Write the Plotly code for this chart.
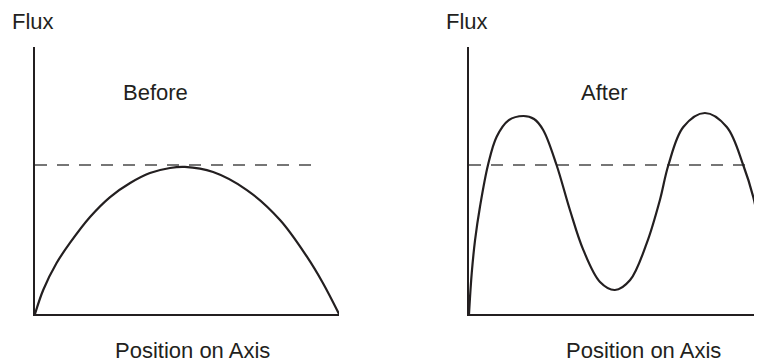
import plotly.graph_objects as go

# Data (position in % of axis length, flux relative to the dashed reference level = 1)
before_x = [0, 2.7, 7.1, 11.5, 18.1, 24.7, 31.3, 37.8, 44.4, 49.3, 58.6, 69.7, 80.6, 89.5, 94.7, 100]
before_y = [0, 0.161, 0.342, 0.477, 0.651, 0.785, 0.879, 0.946, 0.980, 0.987, 0.953, 0.832, 0.631, 0.383, 0.208, 0]

after_x = [0, 0.9, 2.0, 3.6, 6.25, 9.1, 13.0, 17.9, 21.4, 24.4, 28.8, 33.2, 37.6, 43.1, 48.0,
           53.0, 58.5, 62.8, 65.6, 70.5, 77.6, 84.8, 90.2, 93.5, 96.4]
after_y = [0, 0.275, 0.497, 0.718, 1.0, 1.19, 1.30, 1.329, 1.309, 1.235, 1.0, 0.698, 0.430, 0.215, 0.161,
           0.228, 0.477, 0.765, 1.0, 1.255, 1.349, 1.255, 1.0, 0.785, 0.497]

ref_before_x = [0, 93.8]
ref_after_x = [0, 96.4]
ref_level = [1, 1]

panel_titles = ["Before", "After"]
y_label = "Flux"
x_label = "Position on Axis"

# page body has an 8px margin; place everything relative to that
OFF = 8
W, H = 762 - OFF, 362 - OFF
def px(x):
    return (x - OFF) / W
def py(y):
    return 1 - (y - OFF) / H

INK = "#231f20"
DASH = "#4a4a4a"

fig = go.Figure()
fig.add_trace(go.Scatter(x=ref_before_x, y=ref_level, mode="lines",
                         line=dict(color=DASH, width=1.3, dash="12px,10px"),
                         xaxis="x", yaxis="y", showlegend=False, hoverinfo="skip"))
fig.add_trace(go.Scatter(x=before_x, y=before_y, mode="lines", line_shape="spline",
                         line=dict(color=INK, width=2.2),
                         xaxis="x", yaxis="y", showlegend=False))
fig.add_trace(go.Scatter(x=ref_after_x, y=ref_level, mode="lines",
                         line=dict(color=DASH, width=1.3, dash="12px,10px"),
                         xaxis="x2", yaxis="y2", showlegend=False, hoverinfo="skip"))
fig.add_trace(go.Scatter(x=after_x, y=after_y, mode="lines", line_shape="spline",
                         line=dict(color=INK, width=2.2),
                         xaxis="x2", yaxis="y2", showlegend=False))

ax_common = dict(showgrid=False, zeroline=False, showticklabels=False, ticks="",
                 showline=True, linecolor=INK, linewidth=2.2, fixedrange=True)
yr = [0, (314 - 47) / 149]

fig.update_layout(
    width=W, height=H,
    margin=dict(l=0, r=0, t=0, b=0),
    paper_bgcolor="white", plot_bgcolor="white",
    xaxis=dict(domain=[px(35), px(339)], range=[0, 100], anchor="y", **ax_common),
    yaxis=dict(domain=[py(314), py(47)], range=yr, anchor="x", **ax_common),
    xaxis2=dict(domain=[px(469), 1.0], range=[0, (762 - 469) / 3.04], anchor="y2", **ax_common),
    yaxis2=dict(domain=[py(314), py(47)], range=yr, anchor="x2", **ax_common),
    font=dict(family="Liberation Sans, Arial, Helvetica, sans-serif", color=INK, size=22),
)

ann = []
def text(t, x, y):
    ann.append(dict(text=t, x=px(x), y=py(y), xref="paper", yref="paper",
                    xanchor="center", yanchor="middle", showarrow=False,
                    font=dict(size=22, color=INK)))
text(y_label, 33, 21)
text(y_label, 467, 21)
text(panel_titles[0], 155.5, 93)
text(panel_titles[1], 604, 93)
text(x_label, 192.5, 350)
text(x_label, 643.5, 350)
fig.update_layout(annotations=ann)

fig.write_html("out.html")
